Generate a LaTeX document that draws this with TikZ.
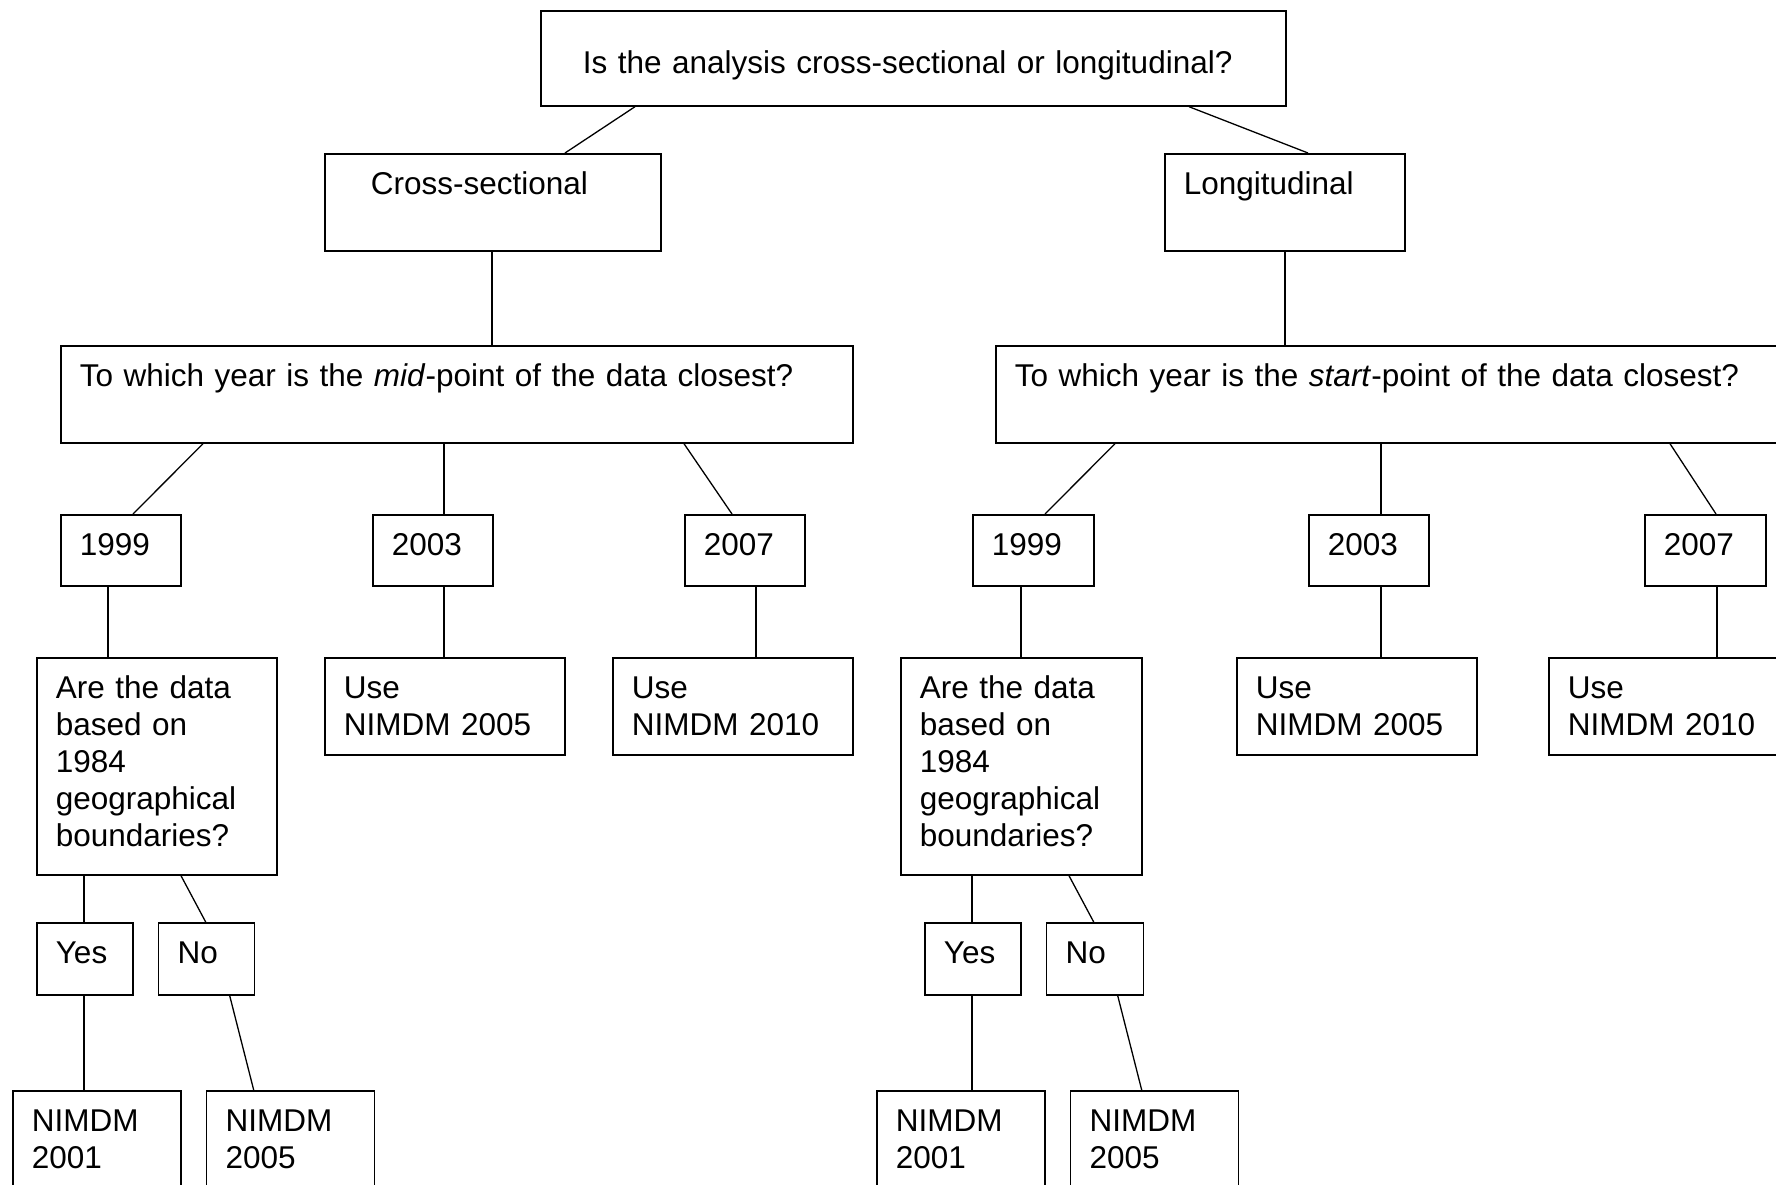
\documentclass[tikz,border=0pt]{standalone}
\usepackage{fontspec}
\setmainfont{Liberation Sans}
\usetikzlibrary{positioning}

\begin{document}
\begin{tikzpicture}[x=1pt,y=-1pt,
    box/.style={draw, line width=1.7pt, anchor=north west, inner xsep=19pt, inner ysep=0pt,
      align=left, text height=41pt, font=\fontsize{31.5}{37}\selectfont},
    link/.style={line width=1.3pt}]
    \useasboundingbox (0,0) rectangle (1776,1184);
    \clip (0,0) rectangle (1776,1184);

    \node[box, inner xsep=42pt, text width=661pt, text height=63pt, text depth=32pt] (question) at (540,10) {Is the analysis cross-sectional or longitudinal?};
    \node[box, inner xsep=46pt, text width=244pt, text depth=56pt] (cross) at (324,153) {Cross-sectional};
    \node[box, text width=202pt, text depth=56pt] (longi) at (1164,153) {Longitudinal};

    \node[box, text width=754pt, text depth=56pt] (mid) at (60,345) {To which year is the \textit{mid}-point of the data closest?};
    \node[box, text width=762pt, text depth=56pt] (start) at (995,345) {To which year is the \textit{start}-point of the data closest?};

    % years
    \node[box, text width=82pt, text depth=30pt] (midA) at (60,514) {1999};
    \node[box, text width=82pt, text depth=30pt] (midB) at (372,514) {2003};
    \node[box, text width=82pt, text depth=30pt] (midC) at (684,514) {2007};
    \node[box, text width=83pt, text depth=30pt] (startA) at (972,514) {1999};
    \node[box, text width=82pt, text depth=30pt] (startB) at (1308,514) {2003};
    \node[box, text width=83pt, text depth=30pt] (startC) at (1644,514) {2007};

    \node[box, text width=202pt, text depth=176pt] (midAsk) at (36,657) {Are the data\\based on\\1984\\geographical\\boundaries?};
    \node[box, text width=202pt, text depth=56pt] (midUseB) at (324,657) {Use\\NIMDM 2005};
    \node[box, text width=202pt, text depth=56pt] (midUseC) at (612,657) {Use\\NIMDM 2010};
    \node[box, text width=203pt, text depth=176pt] (startAsk) at (900,657) {Are the data\\based on\\1984\\geographical\\boundaries?};
    \node[box, text width=202pt, text depth=56pt] (startUseB) at (1236,657) {Use\\NIMDM 2005};
    \node[box, text width=222pt, text depth=56pt] (startUseC) at (1548,657) {Use\\NIMDM 2010};

    % yes / no
    \node[box, text width=58pt, text depth=31pt] (midYes) at (36,922) {Yes};
    \node[box, text width=58pt, text depth=31pt, right=24pt of midYes] (midNo) {No};
    \node[box, text width=58pt, text depth=31pt] (startYes) at (924,922) {Yes};
    \node[box, text width=59pt, text depth=31pt, right=24pt of startYes] (startNo) {No};

    \node[box, text width=130pt, text depth=89pt] (midOld) at (12,1090) {NIMDM\\2001};
    \node[box, text width=130pt, text depth=89pt, right=24pt of midOld] (midNew) {NIMDM\\2005};
    \node[box, text width=130pt, text depth=89pt] (startOld) at (876,1090) {NIMDM\\2001};
    \node[box, text width=130pt, text depth=89pt, right=24pt of startOld] (startNew) {NIMDM\\2005};

    \draw[link] ([xshift=95pt]question.south west) -- ([xshift=241pt]cross.north west);
    \draw[link] ([xshift=649pt]question.south west) -- ([xshift=144pt]longi.north west);
    \draw[link] ([xshift=168pt]cross.south west) -- ([xshift=432pt]mid.north west);
    \draw[link] ([xshift=121pt]longi.south west) -- ([xshift=290pt]start.north west);

    \draw[link] ([xshift=143pt]mid.south west) -- ([xshift=73pt]midA.north west);
    \draw[link] ([xshift=384pt]mid.south west) -- ([xshift=72pt]midB.north west);
    \draw[link] ([xshift=624pt]mid.south west) -- ([xshift=48pt]midC.north west);
    \draw[link] ([xshift=120pt]start.south west) -- ([xshift=73pt]startA.north west);
    \draw[link] ([xshift=386pt]start.south west) -- ([xshift=73pt]startB.north west);
    \draw[link] ([xshift=675pt]start.south west) -- ([xshift=72pt]startC.north west);

    \draw[link] ([xshift=48pt]midA.south west) -- ([xshift=72pt]midAsk.north west);
    \draw[link] ([xshift=72pt]midB.south west) -- ([xshift=120pt]midUseB.north west);
    \draw[link] ([xshift=72pt]midC.south west) -- ([xshift=144pt]midUseC.north west);
    \draw[link] ([xshift=49pt]startA.south west) -- ([xshift=121pt]startAsk.north west);
    \draw[link] ([xshift=73pt]startB.south west) -- ([xshift=145pt]startUseB.north west);
    \draw[link] ([xshift=73pt]startC.south west) -- ([xshift=169pt]startUseC.north west);

    \draw[link] ([xshift=48pt]midAsk.south west) -- ([xshift=48pt]midYes.north west);
    \draw[link] ([xshift=145pt]midAsk.south west) -- ([xshift=48pt]midNo.north west);
    \draw[link] ([xshift=72pt]startAsk.south west) -- ([xshift=48pt]startYes.north west);
    \draw[link] ([xshift=169pt]startAsk.south west) -- ([xshift=48pt]startNo.north west);

    \draw[link] ([xshift=48pt]midYes.south west) -- ([xshift=72pt]midOld.north west);
    \draw[link] ([xshift=72pt]midNo.south west) -- ([xshift=48pt]midNew.north west);
    \draw[link] ([xshift=48pt]startYes.south west) -- ([xshift=96pt]startOld.north west);
    \draw[link] ([xshift=72pt]startNo.south west) -- ([xshift=72pt]startNew.north west);
\end{tikzpicture}
\end{document}
